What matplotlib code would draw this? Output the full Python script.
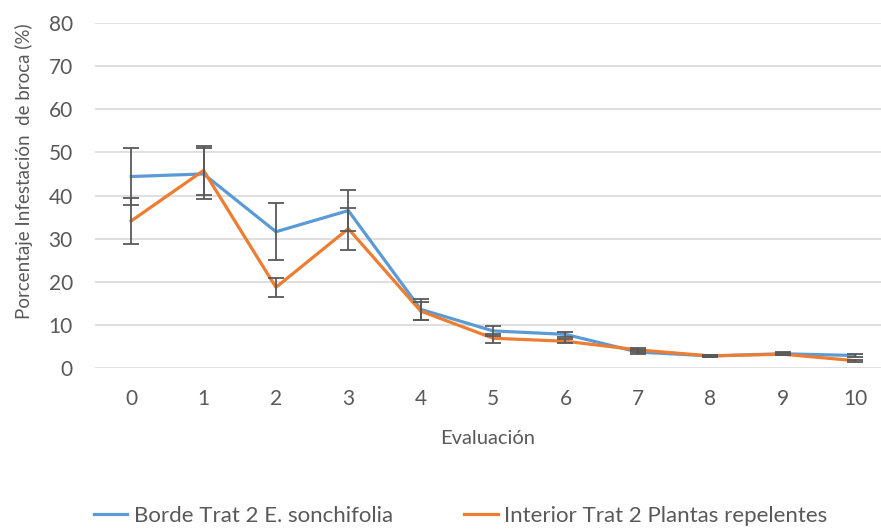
import numpy as np
import matplotlib.pyplot as plt

plt.rcParams['font.family'] = ['Lato', 'DejaVu Sans']

# Data
evaluacion = np.arange(11)
borde = [44.4, 45.0, 31.6, 36.5, 13.6, 8.6, 7.8, 3.7, 2.8, 3.3, 2.9]
borde_err = [6.5, 5.9, 6.6, 4.8, 2.4, 1.2, 0.6, 0.5, 0.3, 0.3, 0.4]
interior = [34.1, 45.8, 18.7, 32.3, 13.2, 6.9, 6.2, 4.2, 2.8, 3.2, 1.7]
interior_err = [5.3, 5.6, 2.2, 4.9, 2.0, 1.0, 0.5, 0.4, 0.3, 0.3, 0.2]

label_borde = "Borde Trat 2 E. sonchifolia"
label_interior = "Interior Trat 2 Plantas repelentes"

blue = "#5b9bd5"
orange = "#ed7d31"
grey = "#595959"

fig = plt.figure(figsize=(8.81, 5.29), dpi=100)
ax = fig.add_axes([95 / 881, 1 - 368 / 529, (881 - 95) / 881, (368 - 23) / 529])

ax.plot(evaluacion, borde, color=blue, lw=2.3, label=label_borde, zorder=3)
ax.plot(evaluacion, interior, color=orange, lw=2.3, label=label_interior, zorder=4)
ax.errorbar(evaluacion, borde, yerr=borde_err, fmt='none', ecolor=grey,
            elinewidth=1.3, capsize=5.5, capthick=1.3, zorder=5)
ax.errorbar(evaluacion, interior, yerr=interior_err, fmt='none', ecolor=grey,
            elinewidth=1.3, capsize=5.5, capthick=1.3, zorder=5)

ax.set_xlim(-0.5, 10.36)
ax.set_ylim(0, 80)
ax.set_yticks(np.arange(0, 81, 10))
ax.set_xticks(evaluacion)
ax.yaxis.grid(True, color="#d9d9d9", lw=1.2)
ax.set_axisbelow(True)
for s in ax.spines.values():
    s.set_visible(False)
ax.tick_params(length=0, labelsize=15, labelcolor=grey)
ax.tick_params(axis='x', pad=15)
ax.tick_params(axis='y', pad=16)

ax.set_xlabel("Evaluación", fontsize=14.5, color=grey, labelpad=15)
ax.set_ylabel("Porcentaje Infestación  de broca (%)", fontsize=13.5, color=grey,
              labelpad=11, y=0.57)

fig.legend(loc='lower center', bbox_to_anchor=(0.523, -0.032), ncol=2, frameon=False,
           fontsize=16, labelcolor=grey, handlelength=1.5, handletextpad=0.3,
           columnspacing=3.2)

fig.savefig("out.png", dpi=100)
